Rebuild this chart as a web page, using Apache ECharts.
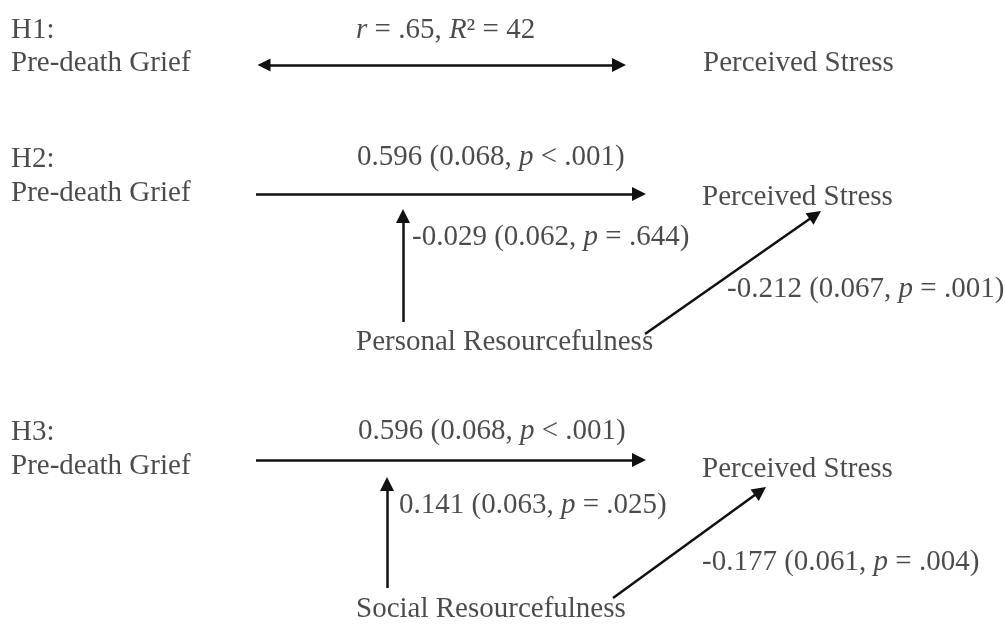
<!DOCTYPE html>
<html>
<head>
<meta charset="utf-8">
<script src="https://cdn.jsdelivr.net/npm/echarts@6/dist/echarts.min.js"></script>
<style>
html,body{margin:0;padding:0;background:#fff;}
#chart{width:1005px;height:627px;}
</style>
</head>
<body>
<div id="chart"></div>
<script>
// ---- content (text / values) ----
const hypotheses = ['H1:', 'H2:', 'H3:'];
const predictor = 'Pre-death Grief';
const outcome = 'Perceived Stress';
const moderators = ['Personal Resourcefulness', 'Social Resourcefulness'];
const h1Corr = ['.65', '42'];                       // r, R^2
const directEffect = ['0.596', '0.068', '< .001'];  // b, SE, p
const interactionEffects = [['-0.029', '0.062', '= .644'], ['0.141', '0.063', '= .025']];
const moderatorEffects = [['-0.212', '0.067', '= .001'], ['-0.177', '0.061', '= .004']];

// ---- layout (pixel positions on a 1005 x 627 canvas) ----
const W = 1005, H = 627;
const textPos = {
  h: [[11, 30], [11, 159], [11, 432]],
  pred: [[11, 63], [11, 193], [11, 466]],
  out: [[703, 63], [702, 197], [702, 469]],
  h1stat: [356, 30],
  direct: [[357, 157], [358, 431]],
  inter: [[412, 237], [399, 505]],
  modEff: [[727, 289], [702, 562]],
  mod: [[356, 342], [356, 609]]
};
const arrowPos = {
  h1: [[257, 65], [626, 65]],
  direct: [[[256, 194], [646, 194]], [[256, 460], [646, 460]]],
  inter: [[[403, 322], [403, 209]], [[387, 588], [387, 477]]],
  mod: [[[645, 334], [821, 211]], [[613, 598], [766, 487]]]
};
const ARROW = 14;

function stat(v) {
  return '{n|' + v[0] + ' (' + v[1] + ', }{i|p}{n| ' + v[2] + ')}';
}
function txt(s) { return '{n|' + s + '}'; }

const texts = [];
for (let k = 0; k < 3; k++) {
  texts.push({ value: textPos.h[k], t: txt(hypotheses[k]) });
  texts.push({ value: textPos.pred[k], t: txt(predictor) });
  texts.push({ value: textPos.out[k], t: txt(outcome) });
}
texts.push({ value: textPos.h1stat, t: '{i|r}{n| = ' + h1Corr[0] + ', }{i|R}{n|² = ' + h1Corr[1] + '}' });
for (let k = 0; k < 2; k++) {
  texts.push({ value: textPos.direct[k], t: stat(directEffect) });
  texts.push({ value: textPos.inter[k], t: stat(interactionEffects[k]) });
  texts.push({ value: textPos.modEff[k], t: stat(moderatorEffects[k]) });
  texts.push({ value: textPos.mod[k], t: txt(moderators[k]) });
}

// pull endpoint back by half arrow so the tip lands at the given point
function pull(p, q, d) {
  const dx = q[0] - p[0], dy = q[1] - p[1];
  const L = Math.sqrt(dx * dx + dy * dy);
  return [q[0] - dx / L * d, q[1] - dy / L * d];
}
const single = [];
arrowPos.direct.concat(arrowPos.inter, arrowPos.mod).forEach(function (a) {
  single.push({ coords: [a[0], pull(a[0], a[1], ARROW / 2)] });
});
const dbl = [{
  coords: [pull(arrowPos.h1[1], arrowPos.h1[0], ARROW / 2), pull(arrowPos.h1[0], arrowPos.h1[1], ARROW / 2)]
}];

const FONT = 'Liberation Serif';
const FS = 29;
const color = '#1e1e1e';

const chart = echarts.init(document.getElementById('chart'), null, { renderer: 'canvas' });
chart.setOption({
  backgroundColor: '#fff',
  animation: false,
  grid: { left: 0, right: 0, top: 0, bottom: 0 },
  xAxis: { type: 'value', min: 0, max: W, show: false },
  yAxis: { type: 'value', min: 0, max: H, inverse: true, show: false },
  series: [
    {
      type: 'lines', coordinateSystem: 'cartesian2d', silent: true,
      symbol: ['none', 'triangle'], symbolSize: [13, ARROW],
      lineStyle: { color: '#111', width: 2.5, opacity: 1, curveness: 0 },
      itemStyle: { color: '#111' },
      data: single
    },
    {
      type: 'lines', coordinateSystem: 'cartesian2d', silent: true,
      symbol: ['triangle', 'triangle'], symbolSize: [13, ARROW],
      lineStyle: { color: '#111', width: 2.5, opacity: 1, curveness: 0 },
      data: dbl
    },
    {
      type: 'scatter', silent: true, symbolSize: 0,
      data: texts.map(function (d) { return { value: d.value, label: { formatter: d.t } }; }),
      label: {
        show: true, position: 'right', distance: 0,
        align: 'left', verticalAlign: 'middle',
        rich: {
          n: { fontFamily: FONT, fontSize: FS, color: color },
          i: { fontFamily: FONT, fontSize: FS, color: color, fontStyle: 'italic' }
        }
      }
    }
  ]
});
</script>
</body>
</html>
